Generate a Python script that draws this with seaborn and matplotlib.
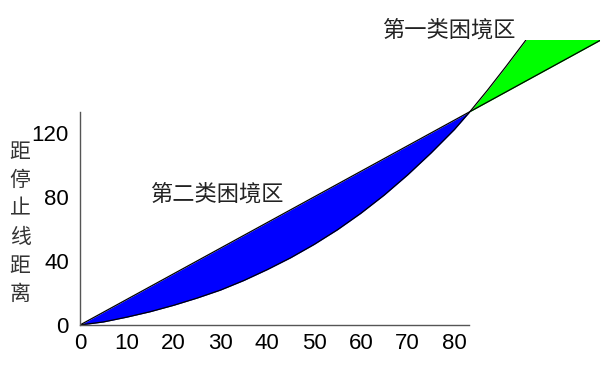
import numpy as np
import matplotlib
matplotlib.use("Agg")
import matplotlib.pyplot as plt
import seaborn as sns

# data
speed = [0, 5, 10, 15, 20, 25, 30, 35, 40, 45, 50, 55, 60, 65, 70, 75, 80, 83.3, 87, 91, 95, 99, 103, 111]
stop_dist = [0, 1.9, 4.9, 8.3, 12.3, 16.8, 21.8, 27.8, 34.6, 42.0, 50.3, 59.5, 69.8, 81.2, 93.8, 107.5, 122.2, 133.3, 146.5, 161.5, 177.0, 193.0, 210.0, 245.0]
line_x = [0, 111.1]
line_y = [0, 177.8]
cross_x = 83.3
xticks = [0, 10, 20, 30, 40, 50, 60, 70, 80]
yticks = [0, 40, 80, 120]
ylabel_text = "距停止线距离"
zone2_text = "第二类困境区"
zone1_text = "第一类困境区"

sns.set_style("white")
plt.rcParams["font.family"] = ["Liberation Sans", "Noto Sans CJK SC", "DejaVu Sans"]

fig = plt.figure(figsize=(6.01, 3.66), dpi=100)
ax = fig.add_axes([80 / 601, 41 / 366, 520 / 601, 285 / 366])

sp = np.array(speed)
sd = np.array(stop_dist)
line_at = np.interp(sp, line_x, line_y)

# dilemma zones between the two curves
ax.fill_between(sp, line_at, sd, where=sp <= cross_x, interpolate=True, color="#0000FF", lw=0)
ax.fill_between(sp, line_at, sd, where=sp >= cross_x, interpolate=True, color="#00FF00", lw=0)

sns.lineplot(x=line_x, y=line_y, ax=ax, color="black", lw=0.9)
sns.lineplot(x=speed, y=stop_dist, ax=ax, color="black", lw=0.9)

ax.set_xlim(0, 111.1)
ax.set_ylim(0, 178.1)
ax.set_xticks(xticks)
ax.set_yticks(yticks)
ax.tick_params(axis="both", length=0, labelsize=16, colors="black")
ax.tick_params(axis="y", pad=8)
ax.tick_params(axis="x", pad=6)

for s in ["top", "right"]:
    ax.spines[s].set_visible(False)
ax.spines["left"].set_bounds(0, 133)
ax.spines["bottom"].set_bounds(0, 83.2)
for s in ["left", "bottom"]:
    ax.spines[s].set_color("#555555")
    ax.spines[s].set_linewidth(1.0)

fig.text(20 / 601, 1 - 223 / 366, "\n".join(ylabel_text), ha="center", va="center",
         fontsize=15, linespacing=1.38, color="#333333", family=["Noto Sans CJK SC", "DejaVu Sans"])
fig.text(150 / 601, 1 - 194 / 366, zone2_text, ha="left", va="center",
         fontsize=16, color="#222222", family=["Noto Sans CJK SC", "DejaVu Sans"])
fig.text(382 / 601, 1 - 30.5 / 366, zone1_text, ha="left", va="center",
         fontsize=16, color="#222222", family=["Noto Sans CJK SC", "DejaVu Sans"])

fig.savefig("out.png", dpi=100)
